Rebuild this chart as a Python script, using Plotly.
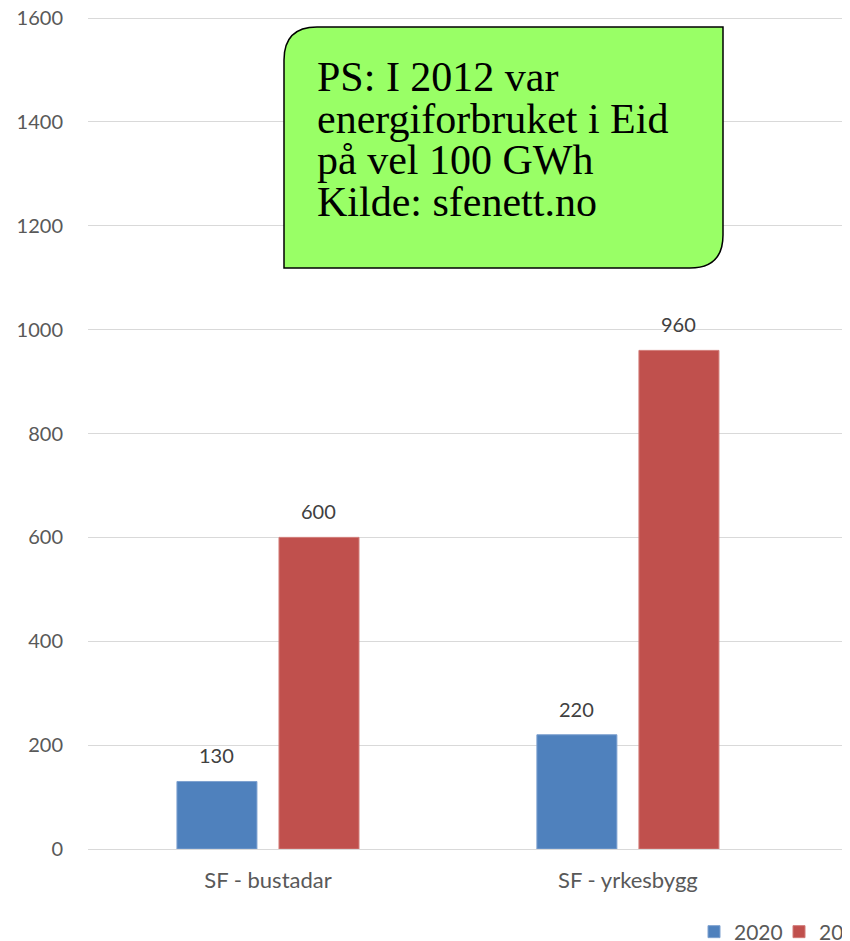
import plotly.graph_objects as go

categories = ["SF - bustadar", "SF - yrkesbygg"]
series_names = ["2020", "2040"]
values_2020 = [130, 220]
values_2040 = [600, 960]
y_ticks = [0, 200, 400, 600, 800, 1000, 1200, 1400, 1600]
note_lines = ["PS: I 2012 var", "energiforbruket i Eid", "på vel 100 GWh", "Kilde: sfenett.no"]

# page body has an 8px margin; figure sized so it ends at the window edge
OFF = 8
W, H = 850 - OFF, 941 - OFF
ML, MR, MT = 88 - OFF, 0, 16 - OFF
PW = W - ML - MR
PH = 833
MB = H - MT - PH
YMAX = 1600 * PH / 831

def px(x):  # reference-screen x -> paper
    return (x - OFF - ML) / PW

def py(y):  # reference-screen y -> paper
    return (MT + PH - (y - OFF)) / PH

colors = ["#4F81BD", "#C0504D"]
edge = ["#7EA1D0", "#D27B78"]
fig = go.Figure()
for name, vals, c, e in zip(series_names, [values_2020, values_2040], colors, edge):
    fig.add_trace(go.Bar(name=name, x=categories, y=vals, marker=dict(color=c, line=dict(color=e, width=1))))

label_font = dict(family="Lato, Carlito, sans-serif", size=20, color="#404040")
for i, vals in enumerate([values_2020, values_2040]):
    shift = -51 if i == 0 else 51
    for cat, v in zip(categories, vals):
        fig.add_annotation(x=cat, y=v, xref="x", yref="y", text=str(v), showarrow=False,
                           xshift=shift, yshift=12, yanchor="bottom", font=label_font)

# note box
L, R, T, B, r = 284, 723, 27, 268, 33
path = (f"M {px(L)},{py(T + r)} Q {px(L)},{py(T)} {px(L + r)},{py(T)} "
        f"L {px(R)},{py(T)} L {px(R)},{py(B - r)} Q {px(R)},{py(B)} {px(R - r)},{py(B)} "
        f"L {px(L)},{py(B)} Z")
fig.add_shape(type="path", path=path, xref="paper", yref="paper",
              fillcolor="#99FF66", line=dict(color="#000000", width=1.5), layer="above")
baselines = [90, 132, 173, 215]
for line, bl in zip(note_lines, baselines):
    fig.add_annotation(x=px(315), y=py(bl - 13), xref="paper", yref="paper", text=line,
                       showarrow=False, xanchor="left", yanchor="middle",
                       font=dict(family="Liberation Serif, Times New Roman, serif", size=42, color="#000000"))

fig.update_layout(
    width=W, height=H,
    margin=dict(l=ML, r=MR, t=MT, b=MB, autoexpand=False),
    plot_bgcolor="white", paper_bgcolor="white",
    barmode="group", bargap=0.433, bargroupgap=0.216,
    font=dict(family="Lato, Carlito, sans-serif", size=20, color="#595959"),
    showlegend=True,
    legend=dict(orientation="h", xref="container", yref="container", x=686 / W, y=(941 - 932) / H,
                xanchor="left", yanchor="middle", entrywidth=40, entrywidthmode="pixels",
                font=dict(size=21, color="#595959"), itemwidth=30, traceorder="normal"),
    xaxis=dict(range=[-0.5, 1.617], showgrid=False, showline=True, linecolor="#D9D9D9", linewidth=1,
               ticks="", ticklabelstandoff=12, tickfont=dict(size=22, color="#595959")),
    yaxis=dict(range=[0, YMAX], tickvals=y_ticks, showgrid=True, gridcolor="#D9D9D9", gridwidth=1,
               zeroline=False, showline=False, ticks="", ticklabelstandoff=24, ticklabeloverflow="allow",
               tickfont=dict(size=20, color="#595959")),
)

fig.write_html("out.html")
